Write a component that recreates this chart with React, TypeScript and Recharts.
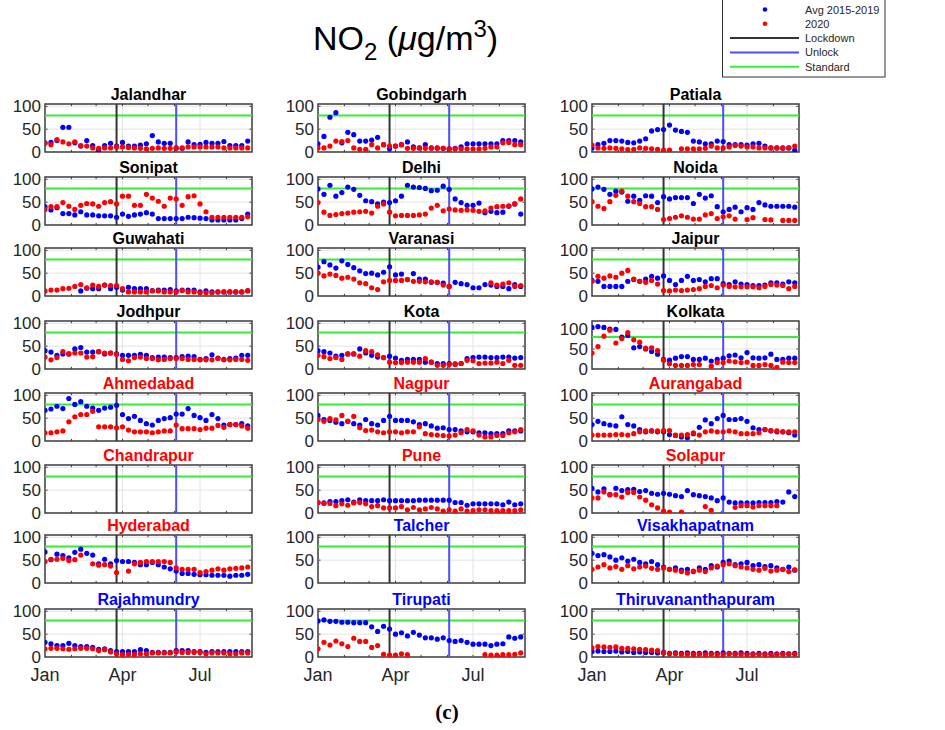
import React from 'react';
import { ScatterChart, Scatter, XAxis, YAxis, ReferenceLine, ReferenceArea } from 'recharts';

const N = null;

// Day-of-year (2020) for each weekly sample
const WEEK_DAYS = [0, 7, 14, 21, 28, 35, 42, 49, 56, 63, 70, 77, 84, 91, 98, 105, 112, 119, 126, 133, 140, 147, 154, 161, 168, 175, 182, 189, 196, 203, 210, 217, 224, 231, 238];
const MONTH_TICKS = [0, 91, 182];
const MONTH_LABELS = ['Jan', 'Apr', 'Jul'];
const MINOR_MONTHS = [31, 60, 91, 121, 152, 182, 213];
const Y_TICKS = [0, 50, 100];
const LOCKDOWN_DAY = 84;
const UNLOCK_DAY = 154;
const STANDARD = 80;
const X_END = 243;

const jalandharAvg = [20, 21, 25, 54, 54, 20, 13, 25, 14, 4, 14, 19, 13, 21, 13, 13, 15, 18, 36, 22, 19, 19, 9, 8, 22, 16, 17, 21, 19, 19, 23, 14, 14, 14, 24];
const jalandhar2020 = [19, 16, 27, 22, 18, 22, 14, 13, 9, 8, 9, 9, 11, 11, 10, 9, 8, 7, 8, 9, 8, 8, 8, 9, 11, 11, 11, 11, 11, 11, 9, 9, 9, 9, 9];
const sonipatAvg = [40, 33, 38, 25, 25, 22, 29, 22, 22, 20, 20, 20, 17, 24, 19, 22, 24, 27, 24, 14, 14, 14, 14, 14, 17, 16, 15, 14, 11, 11, 11, 11, 11, 14, 24];
const sonipat2020 = [34, 40, 40, 49, 41, 34, 43, 47, 46, 41, 49, 51, 46, 63, 63, 43, 43, 67, 59, 52, 41, 59, 57, 43, 62, 64, 46, 29, 17, 17, 17, 17, 17, 17, 18];
const gobindgarhAvg = [18, 34, 76, 86, 20, 43, 38, 24, 24, 26, 32, 16, 7, 13, 16, 22, 11, 9, 16, 9, 9, 8, 7, 8, 11, 18, 18, 18, 18, 18, 18, 25, 25, 25, 22];
const gobindgarh2020 = [9, 9, 13, 24, 23, 25, 9, 6, 6, 16, 9, 16, 13, 13, 16, 8, 8, 9, 8, 8, 8, 8, 7, 7, 7, 7, 7, 7, 8, 11, 11, 20, 21, 16, 16];
const delhiAvg = [79, 67, 87, 63, 71, 83, 78, 65, 53, 51, 46, 50, 49, 53, 63, 87, 83, 82, 80, 75, 76, 85, 78, 57, 49, 43, 43, 48, 27, 30, 27, 28, 41, 46, 24];
const delhi2020 = [49, 28, 21, 23, 25, 26, 28, 29, 30, 26, 41, 46, 28, 20, 21, 21, 21, 22, 24, 37, 43, 31, 35, 33, 32, 33, 32, 30, 31, 37, 40, 41, 42, 46, 57];
const patialaAvg = [9, 16, 19, 25, 25, 24, 21, 20, 24, 29, 46, 49, 49, 59, 48, 45, 43, 24, 22, 18, 18, 24, 23, 16, 16, 16, 15, 18, 19, 13, 9, 9, 9, 9, 4];
const patiala2020 = [15, 9, 8, 9, 8, 7, 5, 6, 9, 8, 7, 6, 4, 4, N, 7, 7, 7, 7, 8, 13, 9, 9, 11, 14, 13, 11, 11, 9, 9, 9, 9, 8, 9, 13];
const noidaAvg = [79, 83, 78, 67, 74, 72, 52, 63, 54, 64, 63, 49, 62, 57, 60, 60, 60, 47, 67, 59, 64, 40, 29, 34, 39, 29, 38, 34, 49, 44, 41, 41, 41, 41, 39];
const noida2020 = [51, 41, 36, 51, 65, 74, 63, 51, 47, 40, 40, 34, 12, 14, 17, 20, 17, 13, 13, 22, 25, 14, 18, 20, 13, N, 12, 16, N, 12, 11, N, 10, 10, 10];
const guwahatiAvg = [N, N, N, N, N, N, 11, 17, 16, 16, 24, 16, 19, 13, 19, 16, 16, 16, 12, 13, 13, 14, 11, 13, 13, 13, 9, 11, 9, 9, 9, 9, 9, 9, 11];
const guwahati2020 = [11, 13, 13, 16, 17, 21, 25, 18, 24, 21, 24, 23, 23, 16, 9, 9, 9, 9, 11, 11, 9, 9, 9, 12, 9, 9, 7, 7, 7, 9, 9, 9, 9, 9, 12];
const varanasiAvg = [63, 75, 68, 61, 77, 69, 62, 55, 49, 50, 46, 52, 64, 46, 48, 36, 49, 37, 37, 30, 30, 28, 21, 30, 27, 25, 18, 18, 25, 24, 21, 21, 16, 25, 21];
const varanasi2020 = [50, 44, 48, 45, 39, 41, 37, 29, 27, 18, 14, 31, 34, 34, 34, 36, 32, 32, 31, 31, 30, 24, 21, N, N, N, N, N, N, 29, 24, 26, 29, 21, 23];
const jaipurAvg = [34, 32, 21, 21, 21, 21, 32, 36, 32, 37, 43, 39, 44, 34, 25, 34, 43, 34, 36, 31, 38, 38, 27, 25, 31, 26, 25, 23, 23, 24, 29, 29, 26, 31, 29];
const jaipur2020 = [32, 43, 39, 44, 41, 50, 56, 37, 32, 30, 34, 26, 12, 11, 13, 12, 13, 14, 16, 21, 23, 18, 24, 21, 20, 20, 20, 20, 18, 21, 25, 24, 23, 16, 21];
const jodhpurAvg = [40, 37, 30, 33, 33, 44, 47, 37, 37, 38, 33, 35, 33, 30, 30, 30, 32, 30, 25, 26, 26, 25, 25, 27, 28, 27, 21, 23, 31, 24, 21, 23, 24, 30, 30];
const jodhpur2020 = [26, 20, 25, 38, 33, 35, 35, 26, 27, 38, 35, 35, 32, 21, 18, 25, 26, 23, 23, 20, 21, 23, 23, 23, 21, 21, 20, 20, 20, 23, 20, 20, 21, 21, 19];
const kotaAvg = [40, 38, 35, 28, 30, 33, 33, 44, 35, 30, 26, 25, 28, 24, 19, 21, 21, 21, 15, 15, 12, 12, 12, 11, 12, 23, 25, 26, 26, 25, 25, 26, 26, 24, 25];
const kota2020 = [30, 27, 23, 25, 21, 33, 33, 28, 40, 38, 31, 25, 15, 14, 14, 15, 15, 15, 23, 15, 8, 8, 10, 10, 12, 19, 18, 12, 13, 13, 15, 12, 19, 8, 8];
const kolkataAvg = [104, 106, 104, 100, 99, 80, 84, 53, 56, 50, 44, 37, 24, 22, 27, 31, 31, 24, 24, 27, 20, 24, 27, 33, 35, 28, 41, 28, 27, 28, 37, 24, 24, 27, 27];
const kolkata2020 = [40, 56, 82, 97, 65, 76, 91, 73, 67, 52, 53, 46, 22, 13, 9, 9, 9, 11, 11, N, 7, 16, 16, 20, 18, 16, 17, 9, 9, 11, 9, 4, 17, 16, 16];
const ahmedabadAvg = [67, 70, 76, 71, 93, 80, 86, 76, 72, 67, 72, 74, 78, 58, 49, 54, 45, 38, 35, 45, 49, 51, 59, 59, 71, 56, 51, 45, 58, 49, 35, 36, 36, 38, 33];
const ahmedabad2020 = [18, 18, 20, 22, 42, 53, 58, 58, 65, 31, 31, 31, 29, 31, 24, 20, 20, 20, 18, 20, 22, 22, 35, 27, 27, 27, 25, 28, 28, 34, 30, 36, 36, 33, 28];
const nagpurAvg = [56, 47, 45, 41, 38, 43, 38, 35, 47, 38, 35, 45, 54, 45, 45, 45, 42, 36, 38, 33, 28, 29, 25, 25, 22, 20, 20, 18, 18, 16, 16, 16, 22, 22, 22];
const nagpur2020 = [47, 43, 49, 46, 56, 43, 54, 29, 23, 24, 20, 18, 20, 20, 18, 20, 20, 31, 16, 14, 13, 12, 11, 13, 18, 25, 22, 13, 9, 9, 12, 12, 18, 20, 25];
const aurangabadAvg = [36, 43, 38, 35, 33, 53, 36, 33, 25, 20, 22, 20, 20, 14, 12, 9, 7, 16, 30, 46, 38, 49, 56, 47, 47, 49, 43, 29, 25, 25, 22, 20, 20, 18, 13];
const aurangabad2020 = [13, 13, 13, 13, 14, 14, 13, 16, 20, 22, 22, 22, 23, 23, 13, 13, 14, 18, 13, 20, 22, 20, 20, 22, 20, 16, 16, 16, 18, 25, 23, 22, 20, 20, 20];
const chandrapurAvg: (number | null)[] = [];
const chandrapur2020: (number | null)[] = [];
const puneAvg = [23, 22, 25, 25, 27, 29, 24, 29, 27, 27, 27, 29, 27, 27, 27, 27, 27, 28, 28, 28, 28, 28, 28, 23, 23, 17, 20, 20, 20, 20, 20, 18, 24, 18, 20];
const pune2020 = [23, 21, 21, 16, 20, 17, 22, 23, 20, 14, 16, 11, 11, 11, 14, 7, 12, 7, 9, 12, 9, 4, 7, 4, 9, 4, 5, 7, 7, 5, 5, 5, 5, 5, 7];
const solapurAvg = [54, 46, 53, 40, 54, 49, 51, 52, 47, 49, 43, 41, 43, 41, 38, 36, 49, 40, 38, 36, 33, 27, 33, 24, 22, 22, 22, 22, 23, 23, 23, 25, 24, 46, 36];
const solapur2020 = [33, 33, 46, 40, 40, 35, 45, 45, 35, 28, 18, 11, 4, 2, N, 2, N, N, N, 14, 6, N, N, N, 12, 16, 16, 13, 16, 16, 16, 16, N, N, N];
const hyderabadAvg = [68, 51, 63, 60, 55, 67, 74, 65, 61, 42, 52, 42, 49, 47, 47, 45, 40, 40, 45, 40, 35, 31, 26, 21, 21, 19, 18, 18, 17, 17, 17, 15, 17, 17, 19];
const hyderabad2020 = [47, 52, 52, 54, 49, 51, 61, N, 42, 39, 40, 37, 23, N, 26, 42, 45, 47, 47, 47, 47, 45, 33, 30, 30, 30, 23, 25, 28, 31, 28, 31, 32, 33, 35];
const talcherAvg: (number | null)[] = [];
const talcher2020: (number | null)[] = [];
const visakhapatnamAvg = [65, 60, 62, 57, 50, 55, 48, 52, 45, 42, 47, 40, 35, 30, 33, 28, 30, 25, 33, 30, 38, 35, 45, 48, 40, 42, 45, 38, 40, 36, 38, 33, 30, 35, 28];
const visakhapatnam2020 = [30, 35, 40, 33, 36, 30, 38, 31, 35, 37, 32, 30, 33, 30, 28, 25, 22, 26, 28, 25, 33, 37, 40, 42, 38, 35, 33, 30, 28, 32, 26, 28, 30, 25, 29];
const rajahmundryAvg = [32, 29, 25, 25, 30, 25, 23, 23, 21, 17, 18, 14, 12, 12, 12, 12, 16, 14, 10, 10, 10, 10, 14, 14, 14, 12, 12, 10, 12, 12, 12, 12, 12, 12, 12];
const rajahmundry2020 = [18, 19, 19, 18, 17, 18, 19, 19, 18, 14, 16, 11, 7, 5, 6, 5, 7, 7, 9, 9, 9, 9, 11, 10, 10, 10, 10, 7, 9, 9, 9, 7, 7, 9, 9];
const tirupatiAvg = [79, 81, 78, 78, 76, 76, 75, 75, 75, 66, 56, 67, 61, 50, 53, 46, 54, 48, 42, 42, 39, 42, 36, 34, 36, 32, 28, 28, 28, 25, 28, 29, 44, 41, 44];
const tirupati2020 = [18, 32, 26, 35, 29, 23, 41, 34, 34, 21, 25, 6, 4, 4, 7, 5, N, N, N, N, N, N, N, N, N, N, N, N, 5, 4, 4, 5, 5, 6, 9];
const thiruvananthapuramAvg = [12, 13, 12, 12, 13, 11, 12, 10, 11, 10, 10, 9, 10, 8, 9, 8, 9, 8, 8, 9, 8, 8, 9, 8, 8, 9, 8, 7, 8, 7, 8, 7, 8, 7, 8];
const thiruvananthapuram2020 = [20, 23, 22, 21, 22, 19, 19, 18, 17, 16, 15, 14, 9, 7, 7, 6, 6, 5, 6, 5, 6, 5, 5, 7, 6, 6, 5, 5, 6, 5, 5, 6, 6, 7, 6];

const BLACK = '#000000';
const RED = '#ff0000';
const BLUE = '#0000ff';

type PanelDef = { name: string; color: string; avg: (number | null)[]; y2020: (number | null)[]; ymax: number };

const columns: PanelDef[][] = [
  [
    { name: 'Jalandhar', color: BLACK, avg: jalandharAvg, y2020: jalandhar2020, ymax: 105 },
    { name: 'Sonipat', color: BLACK, avg: sonipatAvg, y2020: sonipat2020, ymax: 105 },
    { name: 'Guwahati', color: BLACK, avg: guwahatiAvg, y2020: guwahati2020, ymax: 105 },
    { name: 'Jodhpur', color: BLACK, avg: jodhpurAvg, y2020: jodhpur2020, ymax: 105 },
    { name: 'Ahmedabad', color: RED, avg: ahmedabadAvg, y2020: ahmedabad2020, ymax: 105 },
    { name: 'Chandrapur', color: RED, avg: chandrapurAvg, y2020: chandrapur2020, ymax: 105 },
    { name: 'Hyderabad', color: RED, avg: hyderabadAvg, y2020: hyderabad2020, ymax: 105 },
    { name: 'Rajahmundry', color: BLUE, avg: rajahmundryAvg, y2020: rajahmundry2020, ymax: 105 },
  ],
  [
    { name: 'Gobindgarh', color: BLACK, avg: gobindgarhAvg, y2020: gobindgarh2020, ymax: 105 },
    { name: 'Delhi', color: BLACK, avg: delhiAvg, y2020: delhi2020, ymax: 105 },
    { name: 'Varanasi', color: BLACK, avg: varanasiAvg, y2020: varanasi2020, ymax: 105 },
    { name: 'Kota', color: BLACK, avg: kotaAvg, y2020: kota2020, ymax: 105 },
    { name: 'Nagpur', color: RED, avg: nagpurAvg, y2020: nagpur2020, ymax: 105 },
    { name: 'Pune', color: RED, avg: puneAvg, y2020: pune2020, ymax: 105 },
    { name: 'Talcher', color: BLUE, avg: talcherAvg, y2020: talcher2020, ymax: 105 },
    { name: 'Tirupati', color: BLUE, avg: tirupatiAvg, y2020: tirupati2020, ymax: 105 },
  ],
  [
    { name: 'Patiala', color: BLACK, avg: patialaAvg, y2020: patiala2020, ymax: 105 },
    { name: 'Noida', color: BLACK, avg: noidaAvg, y2020: noida2020, ymax: 105 },
    { name: 'Jaipur', color: BLACK, avg: jaipurAvg, y2020: jaipur2020, ymax: 105 },
    { name: 'Kolkata', color: BLACK, avg: kolkataAvg, y2020: kolkata2020, ymax: 120 },
    { name: 'Aurangabad', color: RED, avg: aurangabadAvg, y2020: aurangabad2020, ymax: 105 },
    { name: 'Solapur', color: RED, avg: solapurAvg, y2020: solapur2020, ymax: 105 },
    { name: 'Visakhapatnam', color: BLUE, avg: visakhapatnamAvg, y2020: visakhapatnam2020, ymax: 105 },
    { name: 'Thiruvananthapuram', color: BLUE, avg: thiruvananthapuramAvg, y2020: thiruvananthapuram2020, ymax: 105 },
  ],
];

const COL_LEFT = [45, 318, 592];
const ROW_TOP = [104, 177, 248, 321, 393, 465, 535, 609];
const PLOT_W = 207;
const PLOT_H = 48;
const Y_AXIS_W = 40;
const TOP_M = 22;
const RIGHT_M = 6;
const BOTTOM_M = 10;

const FONT = "'Liberation Sans', Arial, Helvetica, sans-serif";
const AXIS_GRAY = '#262626';
const BOX = '#3c3c3c';

function toPoints(vals: (number | null)[]) {
  const out: { x: number; y: number }[] = [];
  vals.forEach((v, i) => {
    if (v !== null && v !== undefined) out.push({ x: WEEK_DAYS[i], y: v });
  });
  return out;
}

const blueDot = (props: any) => <circle cx={props.cx} cy={props.cy} r={2.6} fill="#0000ff" />;
const redDot = (props: any) => <circle cx={props.cx} cy={props.cy} r={2.6} fill="#ff0000" />;

function Panel({ p, left, top, bottom }: { p: PanelDef; left: number; top: number; bottom: boolean }) {
  const ymax = p.ymax;
  const xAxisH = bottom ? 32 : 0;
  const height = TOP_M + PLOT_H + (bottom ? xAxisH : BOTTOM_M);
  const tickLenY = ymax * 0.045;
  const tickLenX = 3;
  return (
    <div style={{ position: 'absolute', left: left - Y_AXIS_W, top: top - TOP_M }}>
      <ScatterChart
        width={Y_AXIS_W + PLOT_W + RIGHT_M}
        height={height}
        margin={{ top: TOP_M, right: RIGHT_M, bottom: bottom ? 0 : BOTTOM_M, left: 0 }}
      >
        <XAxis
          type="number"
          dataKey="x"
          domain={[0, X_END]}
          ticks={MONTH_TICKS}
          hide={!bottom}
          height={xAxisH}
          axisLine={false}
          tickLine={false}
          tickSize={4}
          tickMargin={7}
          interval={0}
          allowDataOverflow
          tickFormatter={(v: number) => MONTH_LABELS[MONTH_TICKS.indexOf(v)] ?? ''}
          tick={{ fontSize: 18, fill: AXIS_GRAY, fontFamily: FONT }}
        />
        <YAxis
          type="number"
          dataKey="y"
          domain={[0, ymax]}
          ticks={Y_TICKS}
          width={Y_AXIS_W}
          axisLine={false}
          tickLine={false}
          tickSize={2}
          tickMargin={2}
          interval={0}
          allowDataOverflow
          tick={{ fontSize: 17, fill: AXIS_GRAY, fontFamily: FONT }}
        />
        {/* grid */}
        <ReferenceLine y={50} stroke="#e3e3e3" strokeWidth={1} />
        <ReferenceLine y={100} stroke="#e3e3e3" strokeWidth={1} />
        <ReferenceLine x={91} stroke="#e3e3e3" strokeWidth={1} />
        <ReferenceLine x={182} stroke="#e3e3e3" strokeWidth={1} />
        {/* inward tick marks */}
        {MINOR_MONTHS.map((m) => (
          <ReferenceLine key={'b' + m} segment={[{ x: m, y: 0 }, { x: m, y: tickLenY }]} stroke={BOX} strokeWidth={1} />
        ))}
        {MINOR_MONTHS.map((m) => (
          <ReferenceLine key={'t' + m} segment={[{ x: m, y: ymax }, { x: m, y: ymax - tickLenY }]} stroke={BOX} strokeWidth={1} />
        ))}
        {[50, 100].map((t) => (
          <ReferenceLine key={'l' + t} segment={[{ x: 0, y: t }, { x: tickLenX, y: t }]} stroke={BOX} strokeWidth={1} />
        ))}
        {[50, 100].map((t) => (
          <ReferenceLine key={'r' + t} segment={[{ x: X_END, y: t }, { x: X_END - tickLenX, y: t }]} stroke={BOX} strokeWidth={1} />
        ))}
        <ReferenceLine y={STANDARD} stroke="#33ee33" strokeWidth={2} />
        <ReferenceLine x={LOCKDOWN_DAY} stroke="#333333" strokeWidth={2} />
        <ReferenceLine x={UNLOCK_DAY} stroke="#4d4dff" strokeWidth={2} />
        <Scatter name="Avg 2015-2019" data={toPoints(p.avg)} fill="#0000ff" shape={blueDot} isAnimationActive={false} />
        <Scatter name="2020" data={toPoints(p.y2020)} fill="#ff0000" shape={redDot} isAnimationActive={false} />
        <ReferenceArea
          x1={0}
          x2={X_END}
          y1={0}
          y2={ymax}
          fill="none"
          fillOpacity={0}
          stroke={BOX}
          strokeWidth={1.5}
          label={{ value: p.name, position: 'top', offset: 4, fill: p.color, fontSize: 16, fontWeight: 'bold', fontFamily: FONT }}
        />
      </ScatterChart>
    </div>
  );
}

const LEGEND_ITEMS = [
  { label: 'Avg 2015-2019', kind: 'dot', color: '#0000ff' },
  { label: '2020', kind: 'dot', color: '#ff0000' },
  { label: 'Lockdown', kind: 'line', color: '#333333' },
  { label: 'Unlock', kind: 'line', color: '#4d4dff' },
  { label: 'Standard', kind: 'line', color: '#33ee33' },
];

export default function App() {
  return (
    <div style={{ position: 'absolute', left: 0, top: 0, width: 945, height: 730, background: '#fff', fontFamily: FONT, overflow: 'hidden' }}>
      <svg width={945} height={730} style={{ position: 'absolute', left: 0, top: 0 }}>
        <text x={313} y={50} fontSize={34} fontFamily={FONT} fill="#000">
          NO
          <tspan dy={10} fontSize={24}>2</tspan>
          <tspan dy={-10}> (</tspan>
          <tspan fontStyle="italic">μ</tspan>
          <tspan>g/m</tspan>
          <tspan dy={-13} fontSize={24}>3</tspan>
          <tspan dy={13}>)</tspan>
        </text>
        <rect x={722.5} y={-1} width={162.5} height={78} fill="#fff" stroke="#333" strokeWidth={1} />
        {LEGEND_ITEMS.map((it, i) => {
          const y = 9.5 + i * 14.3;
          return (
            <g key={it.label}>
              {it.kind === 'dot' ? (
                <circle cx={765} cy={y} r={2.3} fill={it.color} />
              ) : (
                <line x1={730} x2={799} y1={y} y2={y} stroke={it.color} strokeWidth={2} />
              )}
              <text x={805} y={y + 4} fontSize={11} fontFamily={FONT} fill={AXIS_GRAY}>
                {it.label}
              </text>
            </g>
          );
        })}
        <text x={447} y={719} fontSize={21} fontWeight="bold" fontFamily="'Liberation Serif', 'Times New Roman', serif" textAnchor="middle" fill="#000">
          (c)
        </text>
      </svg>
      {columns.map((col, ci) =>
        col.map((p, ri) => (
          <Panel key={p.name} p={p} left={COL_LEFT[ci]} top={ROW_TOP[ri]} bottom={ri === ROW_TOP.length - 1} />
        ))
      )}
    </div>
  );
}
